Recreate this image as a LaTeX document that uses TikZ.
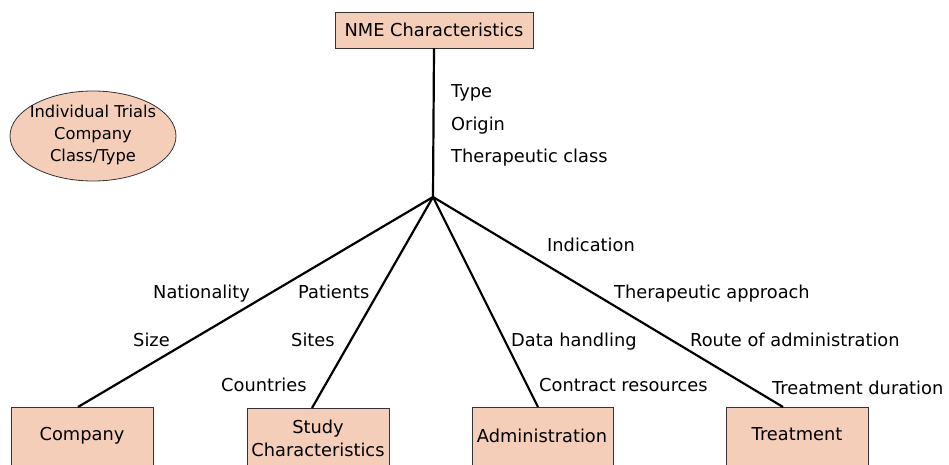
\documentclass[tikz,border=0pt]{standalone}
\usepackage{fontspec}
\setmainfont{DejaVu Sans}
\usetikzlibrary{shapes.geometric}
\definecolor{peach}{RGB}{245,206,186}
\begin{document}
\begin{tikzpicture}[x=1pt,y=-1pt,
  box/.style={draw=black!80,fill=peach,line width=0.8pt,rectangle,inner sep=0pt},
  lbl/.style={anchor=base west,inner sep=0pt,font=\fontsize{17.8}{21}\selectfont},
  btext/.style={font=\fontsize{17.8}{23}\selectfont,align=center,inner sep=0pt},
  etext/.style={font=\fontsize{16.3}{22}\selectfont,align=center,inner sep=0pt},
  conn/.style={line width=2.2pt}]
\useasboundingbox (0,0) rectangle (949,465);
\clip (0,0) rectangle (949,465);
% top box
\node[box,minimum width=198pt,minimum height=36pt] (nme) at (434,30) {};
\node[btext] at (nme.center) {NME Characteristics};
% ellipse
\node[ellipse,draw=black!80,fill=peach,line width=0.8pt,minimum width=166pt,minimum height=90pt,inner sep=0pt] (ell) at (93,136) {};
\node[etext] at ([yshift=1pt]ell.center) {Individual Trials\\Company\\Class/Type};
% bottom boxes
\node[box,minimum width=142pt,minimum height=80pt,anchor=north west] (comp) at (11,407) {};
\node[btext] at (82,436) {Company};
\node[box,minimum width=142pt,minimum height=80pt,anchor=north west] (study) at (247,408) {};
\node[btext] at (318,438) {Study\\Characteristics};
\node[box,minimum width=141pt,minimum height=80pt,anchor=north west] (adm) at (472,407) {};
\node[btext] at (542,436) {Administration};
\node[box,minimum width=142pt,minimum height=80pt,anchor=north west] (treat) at (726,407) {};
\node[btext] at (797,434) {Treatment};
% hub
\coordinate (hub) at (433,197);
\coordinate (cc) at (78,407);
\coordinate (sc) at (312,408);
\coordinate (ac) at (538,407);
\coordinate (tc) at (783,407);
\draw[conn] (nme.south) -- (hub);
\draw[conn] (hub) -- (cc);
\draw[conn] (hub) -- (sc);
\draw[conn] (hub) -- (ac);
\draw[conn] (hub) -- (tc);
% labels
\node[lbl] (l1) at (451,98) {Type};
\node[lbl] (l2) at (451,131) {Origin};
\node[lbl] (l3) at (451,163) {Therapeutic class};
\node[lbl] (l4) at (153,298) {Nationality};
\node[lbl] (l5) at (133,346) {Size};
\node[lbl] (l6) at (298,298) {Patients};
\node[lbl] (l7) at (291,346) {Sites};
\node[lbl] (l8) at (221,391) {Countries};
\node[lbl] (l9) at (547,251) {Indication};
\node[lbl] (l10) at (614,298) {Therapeutic approach};
\node[lbl] (l11) at (511,346) {Data handling};
\node[lbl] (l12) at (690,346) {Route of administration};
\node[lbl] (l13) at (539,391) {Contract resources};
\node[lbl] (l14) at (772,394) {Treatment duration};
\end{tikzpicture}
\end{document}
